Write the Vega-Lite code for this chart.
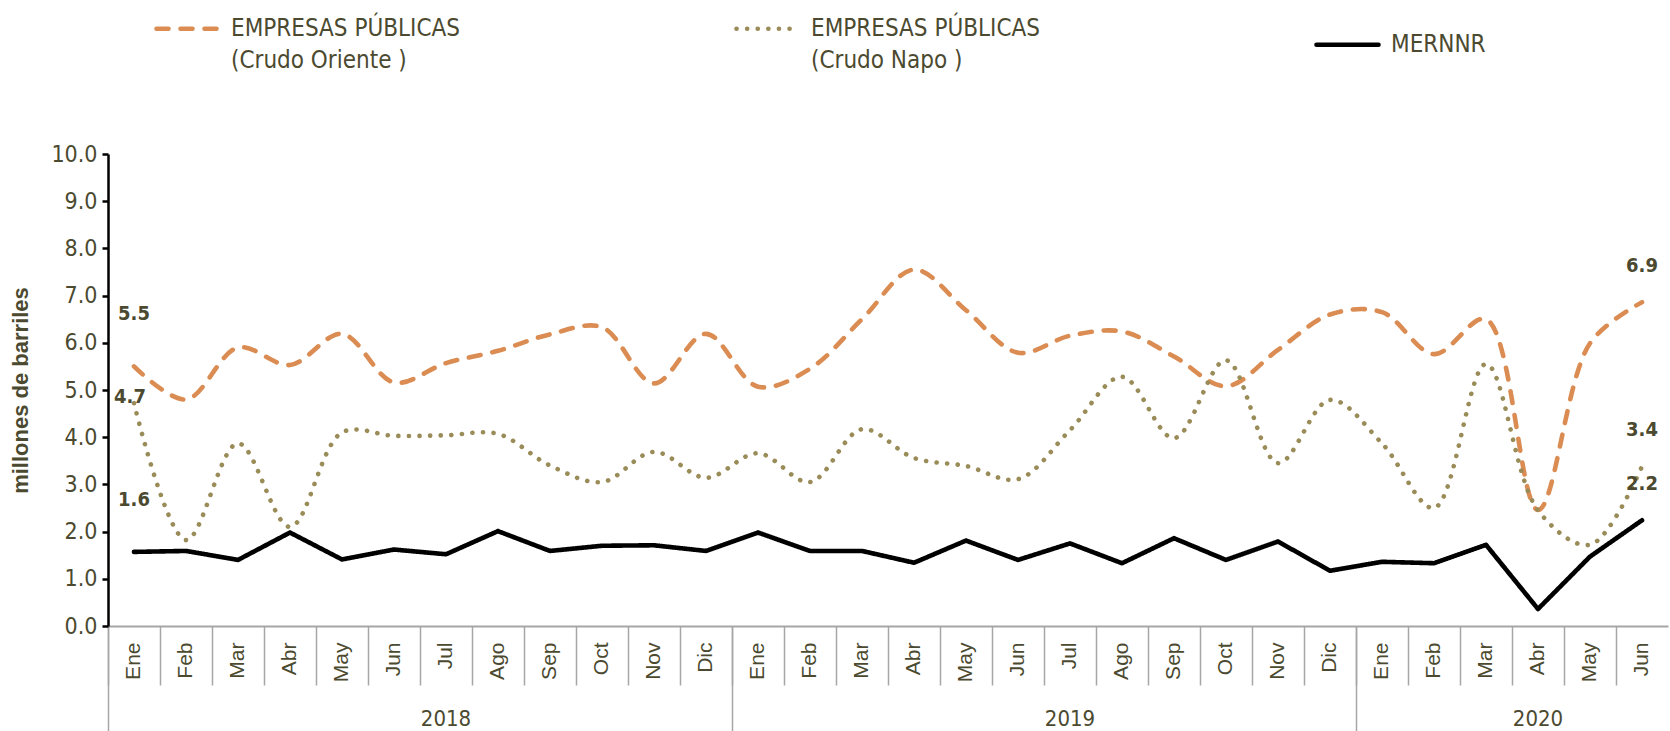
{
  "$schema": "https://vega.github.io/schema/vega-lite/v6.json",
  "width": 1560,
  "height": 472,
  "autosize": {"type": "none"},
  "padding": {"left": 108, "top": 154, "right": 2, "bottom": 105},
  "background": "white",
  "config": {"view": {"stroke": null}, "font": "Liberation Sans"},
  "datasets": {
    "d": [
      {"periodo": "2018-Ene", "serie": "Oriente", "valor": 5.5}, {"periodo": "2018-Feb", "serie": "Oriente", "valor": 4.8}, {"periodo": "2018-Mar", "serie": "Oriente", "valor": 5.9}, {"periodo": "2018-Abr", "serie": "Oriente", "valor": 5.53}, {"periodo": "2018-May", "serie": "Oriente", "valor": 6.19}, {"periodo": "2018-Jun", "serie": "Oriente", "valor": 5.16}, {"periodo": "2018-Jul", "serie": "Oriente", "valor": 5.57}, {"periodo": "2018-Ago", "serie": "Oriente", "valor": 5.83}, {"periodo": "2018-Sep", "serie": "Oriente", "valor": 6.18}, {"periodo": "2018-Oct", "serie": "Oriente", "valor": 6.33}, {"periodo": "2018-Nov", "serie": "Oriente", "valor": 5.14}, {"periodo": "2018-Dic", "serie": "Oriente", "valor": 6.19},
      {"periodo": "2019-Ene", "serie": "Oriente", "valor": 5.07}, {"periodo": "2019-Feb", "serie": "Oriente", "valor": 5.45}, {"periodo": "2019-Mar", "serie": "Oriente", "valor": 6.5}, {"periodo": "2019-Abr", "serie": "Oriente", "valor": 7.55}, {"periodo": "2019-May", "serie": "Oriente", "valor": 6.69}, {"periodo": "2019-Jun", "serie": "Oriente", "valor": 5.79}, {"periodo": "2019-Jul", "serie": "Oriente", "valor": 6.15}, {"periodo": "2019-Ago", "serie": "Oriente", "valor": 6.24}, {"periodo": "2019-Sep", "serie": "Oriente", "valor": 5.71}, {"periodo": "2019-Oct", "serie": "Oriente", "valor": 5.08}, {"periodo": "2019-Nov", "serie": "Oriente", "valor": 5.85}, {"periodo": "2019-Dic", "serie": "Oriente", "valor": 6.6},
      {"periodo": "2020-Ene", "serie": "Oriente", "valor": 6.65}, {"periodo": "2020-Feb", "serie": "Oriente", "valor": 5.76}, {"periodo": "2020-Mar", "serie": "Oriente", "valor": 6.5}, {"periodo": "2020-Abr", "serie": "Oriente", "valor": 2.46}, {"periodo": "2020-May", "serie": "Oriente", "valor": 5.99}, {"periodo": "2020-Jun", "serie": "Oriente", "valor": 6.86},
      {"periodo": "2018-Ene", "serie": "Napo", "valor": 4.72}, {"periodo": "2018-Feb", "serie": "Napo", "valor": 1.82}, {"periodo": "2018-Mar", "serie": "Napo", "valor": 3.87}, {"periodo": "2018-Abr", "serie": "Napo", "valor": 2.1}, {"periodo": "2018-May", "serie": "Napo", "valor": 4.1}, {"periodo": "2018-Jun", "serie": "Napo", "valor": 4.03}, {"periodo": "2018-Jul", "serie": "Napo", "valor": 4.04}, {"periodo": "2018-Ago", "serie": "Napo", "valor": 4.07}, {"periodo": "2018-Sep", "serie": "Napo", "valor": 3.4}, {"periodo": "2018-Oct", "serie": "Napo", "valor": 3.05}, {"periodo": "2018-Nov", "serie": "Napo", "valor": 3.69}, {"periodo": "2018-Dic", "serie": "Napo", "valor": 3.14},
      {"periodo": "2019-Ene", "serie": "Napo", "valor": 3.66}, {"periodo": "2019-Feb", "serie": "Napo", "valor": 3.05}, {"periodo": "2019-Mar", "serie": "Napo", "valor": 4.17}, {"periodo": "2019-Abr", "serie": "Napo", "valor": 3.56}, {"periodo": "2019-May", "serie": "Napo", "valor": 3.39}, {"periodo": "2019-Jun", "serie": "Napo", "valor": 3.11}, {"periodo": "2019-Jul", "serie": "Napo", "valor": 4.15}, {"periodo": "2019-Ago", "serie": "Napo", "valor": 5.28}, {"periodo": "2019-Sep", "serie": "Napo", "valor": 3.98}, {"periodo": "2019-Oct", "serie": "Napo", "valor": 5.63}, {"periodo": "2019-Nov", "serie": "Napo", "valor": 3.45}, {"periodo": "2019-Dic", "serie": "Napo", "valor": 4.79},
      {"periodo": "2020-Ene", "serie": "Napo", "valor": 3.87}, {"periodo": "2020-Feb", "serie": "Napo", "valor": 2.5}, {"periodo": "2020-Mar", "serie": "Napo", "valor": 5.55}, {"periodo": "2020-Abr", "serie": "Napo", "valor": 2.45}, {"periodo": "2020-May", "serie": "Napo", "valor": 1.72}, {"periodo": "2020-Jun", "serie": "Napo", "valor": 3.38},
      {"periodo": "2018-Ene", "serie": "MERNNR", "valor": 1.57}, {"periodo": "2018-Feb", "serie": "MERNNR", "valor": 1.59}, {"periodo": "2018-Mar", "serie": "MERNNR", "valor": 1.4}, {"periodo": "2018-Abr", "serie": "MERNNR", "valor": 1.98}, {"periodo": "2018-May", "serie": "MERNNR", "valor": 1.41}, {"periodo": "2018-Jun", "serie": "MERNNR", "valor": 1.62}, {"periodo": "2018-Jul", "serie": "MERNNR", "valor": 1.52}, {"periodo": "2018-Ago", "serie": "MERNNR", "valor": 2.01}, {"periodo": "2018-Sep", "serie": "MERNNR", "valor": 1.59}, {"periodo": "2018-Oct", "serie": "MERNNR", "valor": 1.7}, {"periodo": "2018-Nov", "serie": "MERNNR", "valor": 1.71}, {"periodo": "2018-Dic", "serie": "MERNNR", "valor": 1.59},
      {"periodo": "2019-Ene", "serie": "MERNNR", "valor": 1.98}, {"periodo": "2019-Feb", "serie": "MERNNR", "valor": 1.59}, {"periodo": "2019-Mar", "serie": "MERNNR", "valor": 1.59}, {"periodo": "2019-Abr", "serie": "MERNNR", "valor": 1.34}, {"periodo": "2019-May", "serie": "MERNNR", "valor": 1.81}, {"periodo": "2019-Jun", "serie": "MERNNR", "valor": 1.4}, {"periodo": "2019-Jul", "serie": "MERNNR", "valor": 1.75}, {"periodo": "2019-Ago", "serie": "MERNNR", "valor": 1.33}, {"periodo": "2019-Sep", "serie": "MERNNR", "valor": 1.86}, {"periodo": "2019-Oct", "serie": "MERNNR", "valor": 1.4}, {"periodo": "2019-Nov", "serie": "MERNNR", "valor": 1.79}, {"periodo": "2019-Dic", "serie": "MERNNR", "valor": 1.17},
      {"periodo": "2020-Ene", "serie": "MERNNR", "valor": 1.36}, {"periodo": "2020-Feb", "serie": "MERNNR", "valor": 1.33}, {"periodo": "2020-Mar", "serie": "MERNNR", "valor": 1.72}, {"periodo": "2020-Abr", "serie": "MERNNR", "valor": 0.36}, {"periodo": "2020-May", "serie": "MERNNR", "valor": 1.47}, {"periodo": "2020-Jun", "serie": "MERNNR", "valor": 2.24}
    ]
  },
  "data": {"name": "d"},
  "layer": [
    {
      "transform": [{"filter": "datum.serie != 'MERNNR'"}],
      "mark": {"type": "line", "interpolate": "catmull-rom", "strokeWidth": 4.6, "strokeCap": "round", "strokeJoin": "round"},
      "encoding": {
        "x": {
          "field": "periodo", "type": "ordinal", "sort": null,
          "scale": {"type": "band", "paddingInner": 0, "paddingOuter": 0,
            "domain": ["2018-Ene","2018-Feb","2018-Mar","2018-Abr","2018-May","2018-Jun","2018-Jul","2018-Ago","2018-Sep","2018-Oct","2018-Nov","2018-Dic","2019-Ene","2019-Feb","2019-Mar","2019-Abr","2019-May","2019-Jun","2019-Jul","2019-Ago","2019-Sep","2019-Oct","2019-Nov","2019-Dic","2020-Ene","2020-Feb","2020-Mar","2020-Abr","2020-May","2020-Jun"]},
          "axis": {"orient": "bottom", "title": null, "labelAngle": -90, "labelAlign": "right", "labelBaseline": "middle", "ticks": false, "domain": false, "grid": false, "labelPadding": 16, "labelFontSize": 21, "labelColor": "#4b4a30", "labelExpr": "split(datum.label, '-')[1]", "bandPosition": 0.5}
        },
        "y": {
          "field": "valor", "type": "quantitative",
          "scale": {"domain": [0, 10], "nice": false},
          "axis": {"title": "millones de barriles", "titleFontSize": 22, "titleFontWeight": "bold", "titleColor": "#4b4a30", "titleFont": "Liberation Sans", "titlePadding": 18, "values": [0,1,2,3,4,5,6,7,8,9,10], "format": ".1f", "labelFont": "DejaVu Sans Condensed, Liberation Sans", "labelFontSize": 23, "labelColor": "#4b4a30", "domainColor": "#000000", "domainWidth": 2.5, "tickColor": "#000000", "tickWidth": 2.5, "tickSize": 6, "labelPadding": 5, "grid": false}
        },
        "color": {
          "field": "serie", "type": "nominal",
          "scale": {"domain": ["Oriente", "Napo", "MERNNR"], "range": ["#DA8C52", "#9A8C58", "#000000"]},
          "legend": {
            "orient": "none", "legendX": 46, "legendY": -159, "direction": "horizontal", "title": null,
            "symbolType": "stroke", "symbolSize": 3844, "symbolStrokeWidth": 4.6,
            "labelFont": "DejaVu Sans Condensed, Liberation Sans", "labelFontSize": 24, "labelColor": "#4b4a30", "labelOffset": 10, "labelLimit": 400,
            "columnPadding": 266,
            "labelExpr": "datum.label == 'Oriente' ? ['EMPRESAS PÚBLICAS', '(Crudo Oriente )'] : datum.label == 'Napo' ? ['EMPRESAS PÚBLICAS', '(Crudo Napo )'] : 'MERNNR'",
            "encode": {"symbols": {"update": {"strokeCap": {"value": "round"}}}, "labels": {"update": {"lineHeight": {"value": 32}}}}
          }
        },
        "strokeDash": {
          "field": "serie", "type": "nominal",
          "scale": {"domain": ["Oriente", "Napo", "MERNNR"], "range": [[12, 12], [0.1, 10.5], [1, 0]]}
        }
      }
    },
    {
      "transform": [{"filter": "datum.serie == 'MERNNR'"}],
      "mark": {"type": "line", "interpolate": "linear", "strokeWidth": 4.6, "strokeCap": "round", "strokeJoin": "round"},
      "encoding": {
        "x": {"field": "periodo", "type": "ordinal", "sort": null,
          "axis": {"orient": "bottom", "title": null, "labels": false, "ticks": true, "tickSize": 59, "tickColor": "#a6a6a6", "tickWidth": 1.5, "bandPosition": 0, "domain": true, "domainColor": "#a6a6a6", "domainWidth": 2, "grid": false}},
        "y": {"field": "valor", "type": "quantitative"},
        "color": {"field": "serie", "type": "nominal"},
        "strokeDash": {"field": "serie", "type": "nominal"}
      }
    },
    {
      "transform": [{"filter": "datum.periodo == '2020-Jun'"}],
      "mark": {"type": "text", "font": "DejaVu Sans Condensed, Liberation Sans", "fontWeight": "bold", "fontSize": 20, "color": "#4b4a30", "dy": -36},
      "encoding": {
        "x": {"field": "periodo", "type": "ordinal", "sort": null,
          "axis": {"orient": "bottom", "title": null, "labels": false, "values": ["2018-Ene", "2019-Ene", "2020-Ene"], "ticks": true, "tickSize": 105, "tickColor": "#a6a6a6", "tickWidth": 1.5, "bandPosition": 0, "domain": false, "grid": false}},
        "y": {"field": "valor", "type": "quantitative"},
        "text": {"field": "valor", "type": "quantitative", "format": ".1f"}
      }
    },
    {
      "transform": [{"filter": "datum.periodo == '2018-Ene' && datum.serie != 'Napo'"}],
      "mark": {"type": "text", "font": "DejaVu Sans Condensed, Liberation Sans", "fontWeight": "bold", "fontSize": 20, "color": "#4b4a30", "dy": -52},
      "encoding": {
        "x": {"field": "periodo", "type": "ordinal", "sort": null,
          "axis": {"orient": "bottom", "title": null, "values": ["2018-Jul", "2019-Jul", "2020-Abr"], "ticks": false, "bandPosition": 0, "domain": false, "grid": false, "labelAngle": 0, "labelAlign": "center", "labelBaseline": "top", "labelPadding": 82, "labelFont": "DejaVu Sans Condensed, Liberation Sans", "labelFontSize": 22, "labelColor": "#4b4a30", "labelExpr": "split(datum.label, '-')[0]"}},
        "y": {"field": "valor", "type": "quantitative"},
        "text": {"field": "valor", "type": "quantitative", "format": ".1f"}
      }
    },
    {
      "transform": [{"filter": "datum.periodo == '2018-Ene' && datum.serie == 'Napo'"}],
      "mark": {"type": "text", "font": "DejaVu Sans Condensed, Liberation Sans", "fontWeight": "bold", "fontSize": 20, "color": "#4b4a30", "dy": -6, "dx": -4},
      "encoding": {
        "x": {"field": "periodo", "type": "ordinal", "sort": null, "axis": null},
        "y": {"field": "valor", "type": "quantitative"},
        "text": {"field": "valor", "type": "quantitative", "format": ".1f"}
      }
    }
  ],
  "resolve": {"axis": {"x": "independent"}}
}
